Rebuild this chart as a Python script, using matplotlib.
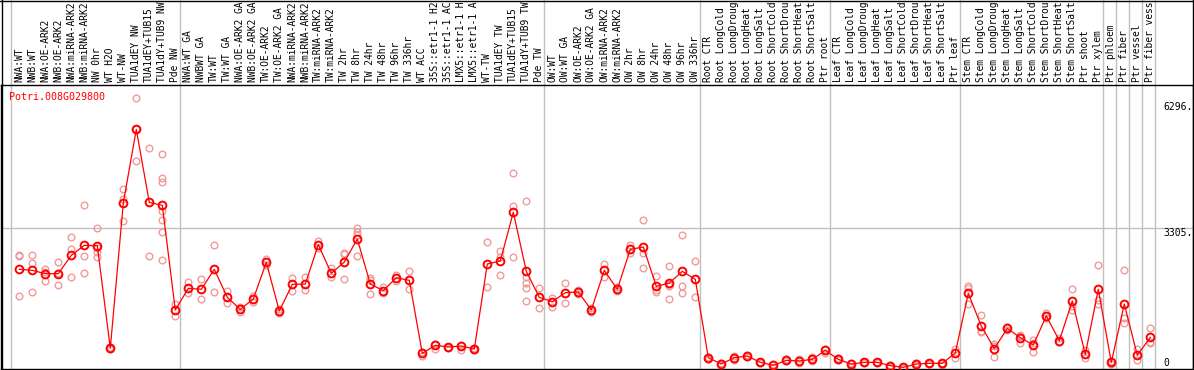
import matplotlib
matplotlib.use("Agg")
import matplotlib.pyplot as plt
import matplotlib.transforms as mtransforms
from matplotlib.lines import Line2D

# gene shown in the panel
gene_id = "Potri.008G029800"

# sample names (one column each)
sample_labels = [
    "NWA:WT", "NWB:WT", "NWA:OE-ARK2", "NWB:OE-ARK2", "NWA:miRNA-ARK2", "NWB:miRNA-ARK2",
    "NW 0hr", "WT H2O", "WT-NW", "TUA1dEY NW", "TUA1dEY+TUB15 NW", "TUA1dY+TUB9 NW", "Pde NW",
    "NWA:WT GA", "NWBWT GA", "TW:WT", "TW:WT GA", "NWA:OE-ARK2 GA", "NWB:OE-ARK2 GA",
    "TW:OE-ARK2", "TW:OE-ARK2 GA", "NWA:miRNA-ARK2", "NWB:miRNA-ARK2", "TW:miRNA-ARK2",
    "TW:miRNA-ARK2", "TW 2hr", "TW 8hr", "TW 24hr", "TW 48hr", "TW 96hr", "TW 336hr", "WT ACC",
    "35S::etr1-1 H2O", "35S::etr1-1 ACC", "LMX5::etr1-1 H2O", "LMX5::etr1-1 ACC", "WT-TW",
    "TUA1dEY TW", "TUA1dEY+TUB15 TW", "TUA1dY+TUB9 TW", "Pde TW",
    "OW:WT", "OW:WT GA", "OW:OE-ARK2", "OW:OE-ARK2 GA", "OW:miRNA-ARK2", "OW:miRNA-ARK2",
    "OW 2hr", "OW 8hr", "OW 24hr", "OW 48hr", "OW 96hr", "OW 336hr",
    "Root CTR", "Root LongCold", "Root LongDrought", "Root LongHeat", "Root LongSalt",
    "Root ShortCold", "Root ShortDrought", "Root ShortHeat", "Root ShortSalt", "Ptr root",
    "Leaf CTR", "Leaf LongCold", "Leaf LongDrought", "Leaf LongHeat", "Leaf LongSalt",
    "Leaf ShortCold", "Leaf ShortDrought", "Leaf ShortHeat", "Leaf ShortSalt", "Ptr leaf",
    "Stem CTR", "Stem LongCold", "Stem LongDrought", "Stem LongHeat", "Stem LongSalt",
    "Stem ShortCold", "Stem ShortDrought", "Stem ShortHeat", "Stem ShortSalt", "Ptr shoot",
    "Ptr xylem", "Ptr phloem", "Ptr fiber", "Ptr vessel", "Ptr fiber vessel",
]

# first column of every sample group (last entry closes the final group)
group_starts = [0, 13, 41, 53, 63, 73, 84, 85, 86, 87, 88]

# mean expression per sample
mean_values = [
    2326, 2302, 2223, 2223, 2657, 2894, 2886, 454, 3897, 5642, 3913, 3842, 1362,
    1876, 1852, 2326, 1662, 1378, 1623, 2491, 1339, 1970, 1978, 2910, 2231, 2499, 3044,
    1978, 1820, 2128, 2065, 336, 525, 486, 509, 438, 2452, 2523, 3676, 2278, 1662,
    1560, 1773, 1789, 1362, 2302, 1852, 2799, 2855, 1923, 2002, 2278, 2089,
    233, 83, 233, 272, 122, 51, 170, 154, 193, 407,
    193, 83, 122, 122, 43, 4, 83, 99, 99, 344,
    1757, 983, 446, 928, 707, 533, 1220, 636, 1575, 312, 1852,
    122, 1504, 288, 715,
]

# individual replicates per sample
replicate_values = [
    [2657, 2642, 1694], [2665, 2468, 1789], [2326, 2270, 2041], [2491, 2231, 1947],
    [3100, 2807, 2136], [3842, 2634, 2231], [3305, 2823, 2744, 2626], [494, 430],
    [4221, 3984, 3463], [6385, 5642, 4884], [5192, 2642],
    [5058, 4497, 4395, 3708, 3494, 3210, 2547], [1504, 1220],
    [2018, 1757], [2097, 1623], [2910, 1789], [1820, 1520], [1441, 1323], [1694, 1560],
    [2563, 2420], [1378, 1283], [2112, 1820], [2136, 1836], [3005, 2823], [2349, 2152],
    [2689, 2089, 2720], [3313, 3218, 3139, 2649], [2112, 2073, 1741], [1915, 1757],
    [2191, 2057], [2286, 1852], [375, 280], [549, 446], [494, 462], [533, 415], [454, 415],
    [2965, 1899], [2760, 2191, 2626], [4608, 3818, 2618], [3945, 2152, 1994, 1876, 1575],
    [1876, 1418],
    [1639, 1441], [1994, 1536], [1836, 1741], [1402, 1323], [2452, 2152], [1915, 1804],
    [2902, 2705], [3494, 2705, 2349], [2168, 1836, 1789], [2405, 1978, 1939, 1631],
    [3139, 1931, 1773], [2523, 1662],
    [257, 209], [99, 59], [272, 178], [296, 257], [138, 99], [83, 20], [193, 154],
    [193, 115], [241, 154], [446, 336],
    [217, 178], [115, 4], [138, 99], [138, 99], [59, 20], [20, 0], [99, 59], [115, 83],
    [115, 59], [446, 233],
    [1931, 1876, 1504], [1244, 873, 841], [557, 517, 249], [967, 888], [770, 754, 588],
    [652, 573, 359], [1283, 1165], [691, 596], [1852, 1465, 1362], [415, 217],
    [2428, 1599, 1504],
    [162, 83], [2302, 1165, 1046], [446, 178], [944, 612, 573],
]

# right-hand scale labels
y_ticks = [6296, 3305, 0]
y_tick_labels = ["6296.", "3305.", "0"]

# the label strip only has room for this many characters
MAX_LABEL_CHARS = 14


def draw_chart():
    W, H = 1194, 370
    fig = plt.figure(figsize=(W / 100, H / 100), dpi=100)

    # plot box: x 1..1193 px, y 85..369 px from the top
    ax = fig.add_axes([1 / W, 1 / H, 1192 / W, 284 / H])
    ax.set_xlim((1 - 19.3) / 13, (1193 - 19.3) / 13)
    ax.set_ylim(-35.5, 6693)
    ax.set_xticks([])
    ax.set_yticks([])
    for sp in ax.spines.values():
        sp.set_color("black")
        sp.set_linewidth(1.0)

    grid_col = "#c0c0c0"
    top_ext = 1 + 85 / 284

    # group separators run through the label strip too
    for s in group_starts:
        ax.axvline(s - 0.62, ymin=0, ymax=top_ext, color=grid_col, lw=1.0,
                   clip_on=False, zorder=0)
    ax.axhline(3305, color=grid_col, lw=1.0, zorder=0)

    # replicates
    for i, reps in enumerate(replicate_values):
        ax.plot([i] * len(reps), reps, linestyle="none", marker="o", ms=4.8,
                mfc="none", mec="#f09a9a", mew=1.0, zorder=2)

    # mean line + markers
    xs = list(range(len(mean_values)))
    ax.plot(xs, mean_values, color="#ff0000", lw=0.9, zorder=3)
    ax.plot(xs, mean_values, linestyle="none", marker="o", ms=5.6,
            mfc="none", mec="#ff0000", mew=1.4, zorder=4)

    # column labels, rotated, in the strip above the plot
    trans = mtransforms.blended_transform_factory(ax.transData, ax.transAxes)
    for i, lab in enumerate(sample_labels):
        ax.text(i, 1 + 3 / 284, lab[:MAX_LABEL_CHARS].rstrip(), rotation=90,
                ha="center", va="bottom", transform=trans, fontsize=6.9,
                family="DejaVu Sans Mono", color="black", clip_on=False)

    # scale labels on the right
    ytrans = mtransforms.blended_transform_factory(ax.transAxes, ax.transData)
    for v, lab in zip(y_ticks, y_tick_labels):
        ax.text((1163 - 1) / 1192, v, lab, ha="left",
                va="bottom" if v == 0 else "top", transform=ytrans,
                fontsize=7, family="DejaVu Sans Mono", color="black")

    # gene name
    ax.text((9 - 1) / 1192, (369 - 97) / 284, gene_id, ha="left", va="center",
            transform=ax.transAxes, fontsize=7.2, family="DejaVu Sans Mono",
            color="#ff0000")

    # outer frame of the whole panel
    def px_line(x0, y0, x1, y1):
        fig.add_artist(Line2D([x0 / W, x1 / W], [1 - y0 / H, 1 - y1 / H],
                              transform=fig.transFigure, color="black", lw=1.0))

    px_line(1.5, 0, 1.5, H)
    px_line(1192.5, 0, 1192.5, H)
    px_line(0, 0.5, W, 0.5)

    fig.savefig("out.png", dpi=100)
    print("saved out.png")


if __name__ == "__main__":
    draw_chart()
